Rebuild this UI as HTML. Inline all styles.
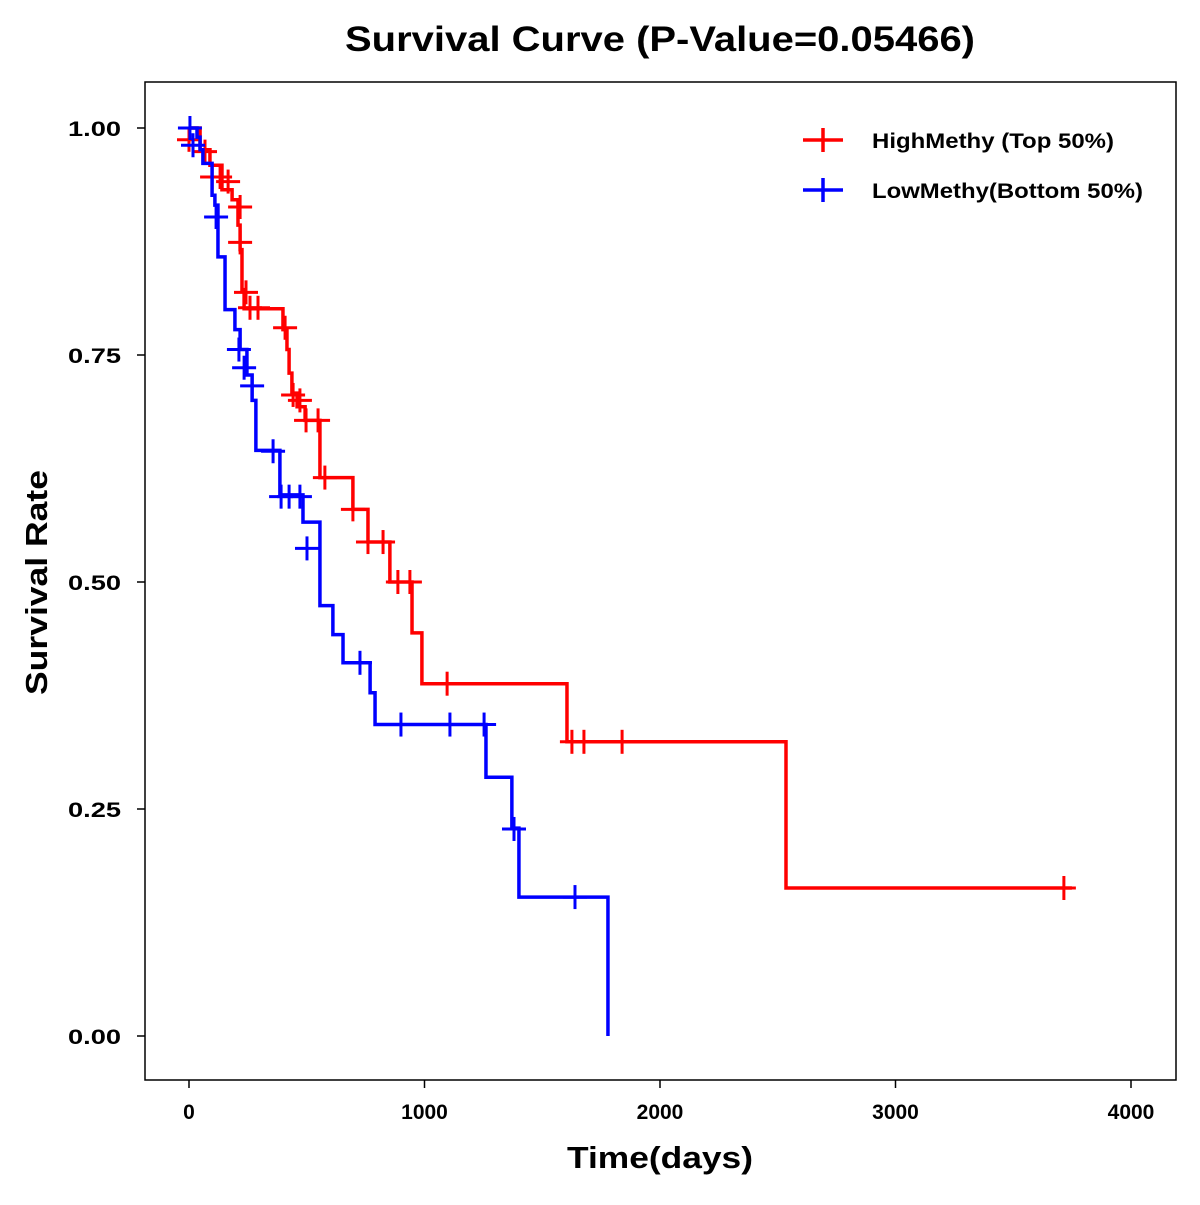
<!DOCTYPE html>
<html><head><meta charset="utf-8"><style>
html,body{margin:0;padding:0;background:#fff}
svg text{font-family:"Liberation Sans",Arial,sans-serif;font-weight:bold}
</style></head><body>
<svg id="chart" width="1200" height="1200" viewBox="0 0 1200 1200" xmlns="http://www.w3.org/2000/svg">
<rect x="0" y="0" width="1200" height="1200" fill="#fff"/>
<text x="345" y="51" font-size="35" textLength="630" lengthAdjust="spacingAndGlyphs">Survival Curve (P-Value=0.05466)</text>
<rect x="145" y="82" width="1031" height="998" fill="none" stroke="#000" stroke-width="1.5"/>
<g id="xticks"></g><g id="yticks"></g>
<text x="567" y="1168" font-size="31" textLength="186" lengthAdjust="spacingAndGlyphs">Time(days)</text>
<text transform="translate(47,695) rotate(-90)" font-size="31" textLength="225" lengthAdjust="spacingAndGlyphs">Survival Rate</text>
<g id="series"></g>
<g>
<g>
<line x1="803" y1="140" x2="843" y2="140" stroke="#ff0000" stroke-width="3.5"/>
<line x1="823" y1="128" x2="823" y2="152" stroke="#ff0000" stroke-width="3.5"/>
<text x="872" y="148" font-size="21" textLength="242" lengthAdjust="spacingAndGlyphs">HighMethy (Top 50%)</text></g>
<g>
<line x1="803" y1="190" x2="843" y2="190" stroke="#0000ff" stroke-width="3.5"/>
<line x1="823" y1="178" x2="823" y2="202" stroke="#0000ff" stroke-width="3.5"/>
<text x="872" y="198" font-size="21" textLength="271" lengthAdjust="spacingAndGlyphs">LowMethy(Bottom 50%)</text></g>
</g>
</svg>
<script>
const xTicks=[0,1000,2000,3000,4000];
const yTicks=[0,0.25,0.5,0.75,1.0];
const yTickLabels=["0.00","0.25","0.50","0.75","1.00"];
const highTimes=[47,89,140,183,208,217,225,234,399,416,425,437,459,493,556,696,760,853,947,989,1605,2535];
const highSurv=[.976,.959,.932,.921,.893,.866,.822,.801,.778,.756,.730,.708,.693,.678,.615,.580,.544,.500,.444,.388,.324,.163];
const highEnd=3749;
const highCensorTimes=[0,68,98,132,166,217,217,242,259,293,408,442,471,497,548,577,696,760,824,887,938,1096,1626,1677,1839,3715];
const highCensorSurv=[.987,.974,.946,.946,.941,.913,.874,.819,.802,.802,.780,.706,.700,.678,.678,.615,.580,.544,.544,.500,.500,.388,.324,.324,.324,.163];
const lowTimes=[34,47,59,98,110,123,153,195,217,246,268,284,386,484,556,611,654,769,790,1261,1371,1401,1779];
const lowSurv=[.990,.976,.961,.926,.915,.858,.800,.778,.756,.728,.700,.645,.596,.566,.474,.442,.411,.378,.343,.285,.229,.153,0];
const lowEnd=1779;
const lowCensorTimes=[4,17,115,212,234,268,357,391,425,471,501,726,900,1108,1253,1380,1639];
const lowCensorSurv=[1.0,.981,.902,.756,.736,.716,.644,.594,.594,.594,.537,.411,.343,.343,.343,.228,.153];

const NS="http://www.w3.org/2000/svg";
const X=t=>189+t*942/4000;
const Y=s=>1036-s*908;
function mk(tag,attrs,parent){const e=document.createElementNS(NS,tag);for(const k in attrs)e.setAttribute(k,attrs[k]);parent.appendChild(e);return e;}
const xg=document.getElementById('xticks'),yg=document.getElementById('yticks'),sg=document.getElementById('series');
xTicks.forEach(v=>{
 const l=mk('line',{x1:X(v),x2:X(v),y1:1080,y2:1088,stroke:'#000','stroke-width':1.5},xg);
 
 
 const t=mk('text',{x:X(v),y:1119,'font-size':21,'text-anchor':'middle'},xg);t.textContent=v;
 
 
});
yTicks.forEach((v,i)=>{
 const l=mk('line',{x1:137,x2:145,y1:Y(v),y2:Y(v),stroke:'#000','stroke-width':1.5},yg);
 
 
 const t=mk('text',{x:68,y:Y(v)+8,'font-size':21,textLength:53,lengthAdjust:'spacingAndGlyphs'},yg);t.textContent=yTickLabels[i];
 
 
});
function drawSeries(times,surv,end,ct,cs,color,name){
 let d='M'+X(0)+','+Y(1);
 times.forEach((t,i)=>{d+=' H'+X(t)+' V'+Y(surv[i]);});
 d+=' H'+X(end);
 const p=mk('path',{d:d,fill:'none',stroke:color,'stroke-width':3.5},sg);
 
 
 ct.forEach((t,i)=>{
  const g=mk('g',{},sg);
  
  
  const cx=X(t),cy=Y(cs[i]);
  mk('line',{x1:cx-12,x2:cx+12,y1:cy,y2:cy,stroke:color,'stroke-width':3},g);
  mk('line',{x1:cx,x2:cx,y1:cy-12,y2:cy+12,stroke:color,'stroke-width':3},g);
 });
}
drawSeries(highTimes,highSurv,highEnd,highCensorTimes,highCensorSurv,'#ff0000','high-methy');
drawSeries(lowTimes,lowSurv,lowEnd,lowCensorTimes,lowCensorSurv,'#0000ff','low-methy');
</script>
</body></html>
